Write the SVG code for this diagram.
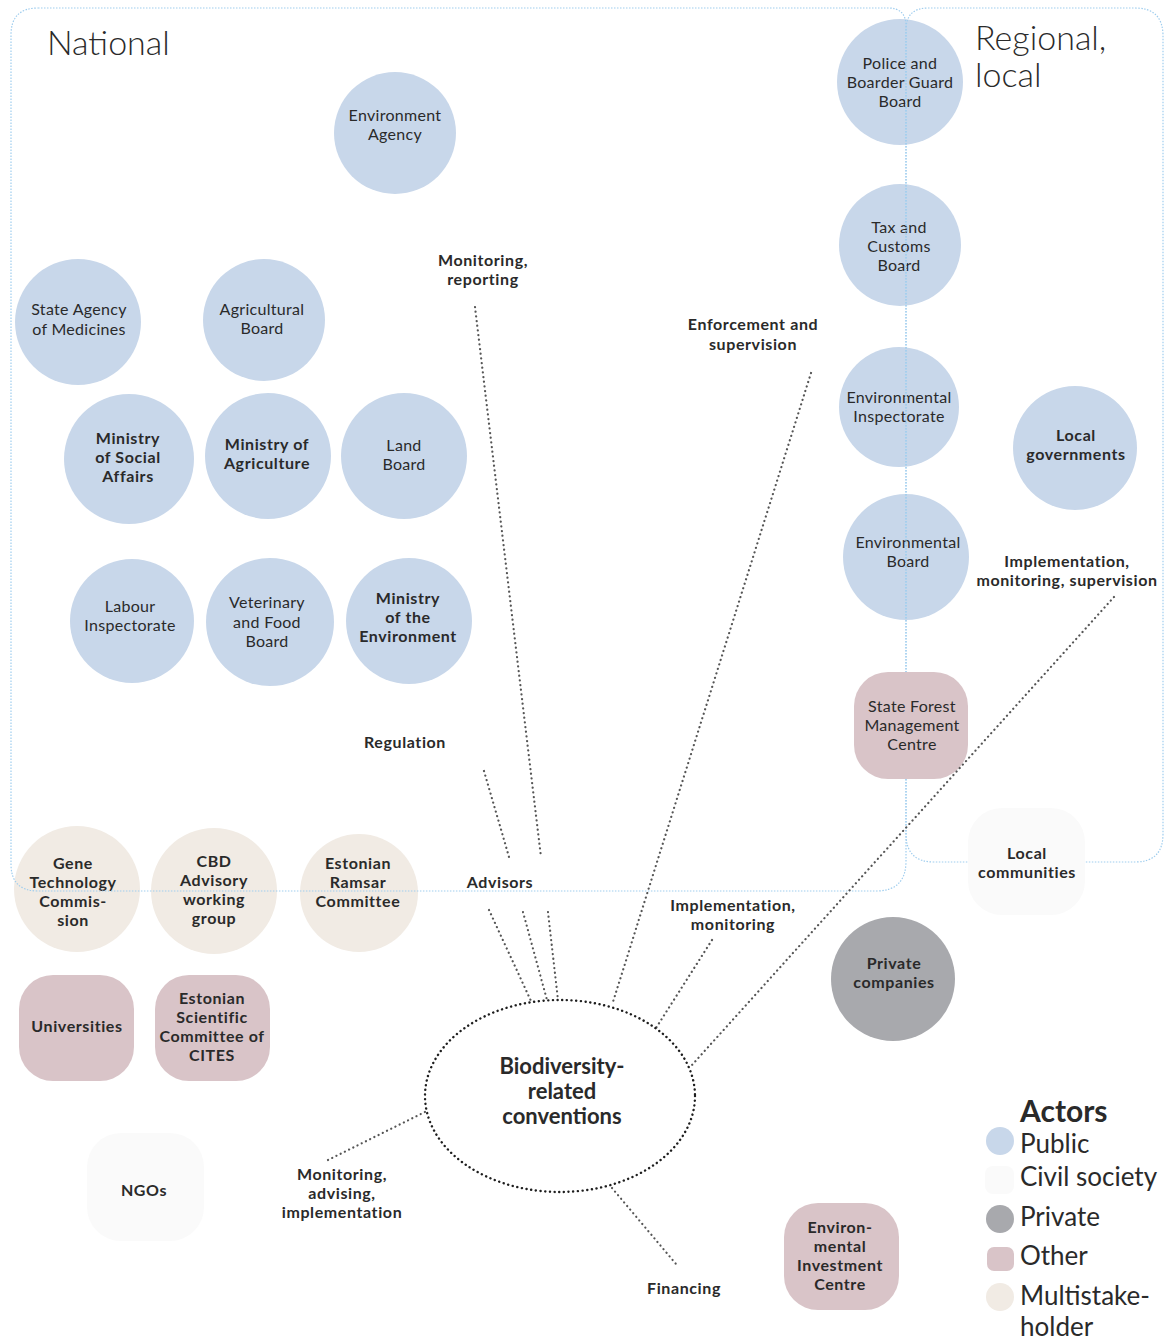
<svg xmlns="http://www.w3.org/2000/svg" width="1165" height="1342" viewBox="0 0 1165 1342">
<style>
text{font-family:Lato,"Liberation Sans",sans-serif;fill:#2a2a2a;text-anchor:middle}
.n{font-size:16px;letter-spacing:0.3px}
.b{font-size:16px;font-weight:700;letter-spacing:0.6px}
.pub{fill:#c8d7ea}
.oth{fill:#d9c4c8}
.mul{fill:#f1ebe4}
.civ{fill:#fafafa}
.pri{fill:#a8a9ad}
.box{fill:none;stroke:#9fcdee;stroke-width:1.2;stroke-dasharray:1.5 1.5}
.con{fill:none;stroke:#555;stroke-width:2.2;stroke-dasharray:0.1 4.6;stroke-linecap:round}
.ell{fill:none;stroke:#1e1e1e;stroke-width:2.4;stroke-dasharray:0.1 4.6;stroke-linecap:round}
.h{font-size:34px;font-weight:300;text-anchor:start}
.lg{font-size:26px;font-weight:400;text-anchor:start}
</style>

<g id="public-circles">
<g id="environment-agency"><circle class="pub" cx="395" cy="133" r="61"/><text class="n" x="395" y="121">Environment</text><text class="n" x="395" y="140">Agency</text></g>
<g id="state-agency-medicines"><circle class="pub" cx="78" cy="322" r="63"/><text class="n" x="79" y="315">State Agency</text><text class="n" x="79" y="335">of Medicines</text></g>
<g id="agricultural-board"><circle class="pub" cx="264" cy="320" r="61"/><text class="n" x="262" y="315">Agricultural</text><text class="n" x="262" y="334">Board</text></g>
<g id="ministry-social-affairs"><circle class="pub" cx="129" cy="459" r="65"/><text class="b" x="128" y="444">Ministry</text><text class="b" x="128" y="463">of Social</text><text class="b" x="128" y="482">Affairs</text></g>
<g id="ministry-agriculture"><circle class="pub" cx="268" cy="456" r="63"/><text class="b" x="267" y="450">Ministry of</text><text class="b" x="267" y="469">Agriculture</text></g>
<g id="land-board"><circle class="pub" cx="404" cy="456" r="63"/><text class="n" x="404" y="451">Land</text><text class="n" x="404" y="470">Board</text></g>
<g id="labour-inspectorate"><circle class="pub" cx="132" cy="621" r="62"/><text class="n" x="130" y="612">Labour</text><text class="n" x="130" y="631">Inspectorate</text></g>
<g id="veterinary-food-board"><circle class="pub" cx="270" cy="622" r="64"/><text class="n" x="267" y="608">Veterinary</text><text class="n" x="267" y="628">and Food</text><text class="n" x="267" y="647">Board</text></g>
<g id="ministry-environment"><circle class="pub" cx="409" cy="621" r="63"/><text class="b" x="408" y="604">Ministry</text><text class="b" x="408" y="623">of the</text><text class="b" x="408" y="642">Environment</text></g>
<g id="police-board"><circle class="pub" cx="900" cy="82" r="63"/><text class="n" x="900" y="69">Police and</text><text class="n" x="900" y="88">Boarder Guard</text><text class="n" x="900" y="107">Board</text></g>
<g id="tax-customs-board"><circle class="pub" cx="900" cy="245" r="61"/><text class="n" x="899" y="233">Tax and</text><text class="n" x="899" y="252">Customs</text><text class="n" x="899" y="271">Board</text></g>
<g id="environmental-inspectorate"><circle class="pub" cx="899" cy="407" r="60"/><text class="n" x="899" y="403">Environmental</text><text class="n" x="899" y="422">Inspectorate</text></g>
<g id="environmental-board"><circle class="pub" cx="906" cy="557" r="63"/><text class="n" x="908" y="548">Environmental</text><text class="n" x="908" y="567">Board</text></g>
<g id="local-governments"><circle class="pub" cx="1075" cy="448" r="62"/><text class="b" x="1076" y="441">Local</text><text class="b" x="1076" y="460">governments</text></g>
</g>

<g id="multistakeholder-circles">
<g id="gene-technology-commission"><circle class="mul" cx="77" cy="889" r="63"/><text class="b" x="73" y="869">Gene</text><text class="b" x="73" y="888">Technology</text><text class="b" x="73" y="907">Commis-</text><text class="b" x="73" y="926">sion</text></g>
<g id="cbd-advisory"><circle class="mul" cx="214" cy="891" r="63"/><text class="b" x="214" y="867">CBD</text><text class="b" x="214" y="886">Advisory</text><text class="b" x="214" y="905">working</text><text class="b" x="214" y="924">group</text></g>
<g id="ramsar-committee"><circle class="mul" cx="359" cy="893" r="59"/><text class="b" x="358" y="869">Estonian</text><text class="b" x="358" y="888">Ramsar</text><text class="b" x="358" y="907">Committee</text></g>
</g>

<g id="private-companies"><circle class="pri" cx="893" cy="979" r="62"/><text class="b" x="894" y="969">Private</text><text class="b" x="894" y="988">companies</text></g>

<g id="scopes">
<path class="box" d="M 38 8 H 888 Q 906 8 906 26 V 861 Q 906 891 876 891 H 38 Q 11 891 11 864 V 35 Q 11 8 38 8 Z"/>
<path class="box" d="M 928 8 H 1135 Q 1163 8 1163 36 V 834 Q 1163 862 1135 862 H 934 Q 906 862 906 834 V 30 Q 906 8 928 8 Z"/>
<text class="h" x="47" y="55">National</text>
<text class="h" x="975" y="50">Regional,</text>
<text class="h" x="975" y="87">local</text>
</g>

<g id="rect-nodes">
<g id="state-forest-centre"><rect class="oth" x="854" y="672" width="114" height="107" rx="34"/><text class="n" x="912" y="712">State Forest</text><text class="n" x="912" y="731">Management</text><text class="n" x="912" y="750">Centre</text></g>
<g id="local-communities"><rect class="civ" x="968" y="808" width="117" height="107" rx="34"/><text class="b" x="1027" y="859">Local</text><text class="b" x="1027" y="878">communities</text></g>
<g id="universities"><rect class="oth" x="19" y="975" width="115" height="106" rx="34"/><text class="b" x="77" y="1032">Universities</text></g>
<g id="cites-committee"><rect class="oth" x="155" y="975" width="115" height="106" rx="34"/><text class="b" x="212" y="1004">Estonian</text><text class="b" x="212" y="1023">Scientific</text><text class="b" x="212" y="1042">Committee of</text><text class="b" x="212" y="1061">CITES</text></g>
<g id="ngos"><rect class="civ" x="87" y="1133" width="117" height="108" rx="34"/><text class="b" x="144" y="1196">NGOs</text></g>
<g id="environmental-investment-centre"><rect class="oth" x="784" y="1203" width="115" height="107" rx="34"/><text class="b" x="840" y="1233">Environ-</text><text class="b" x="840" y="1252">mental</text><text class="b" x="840" y="1271">Investment</text><text class="b" x="840" y="1290">Centre</text></g>
</g>

<g id="connectors">
<line class="con" x1="475" y1="307" x2="541" y2="857"/>
<line class="con" x1="484" y1="771" x2="509" y2="857"/>
<line class="con" x1="811" y1="373" x2="612" y2="1005"/>
<line class="con" x1="489" y1="910" x2="531" y2="1001"/>
<line class="con" x1="523" y1="912" x2="547" y2="1000"/>
<line class="con" x1="548" y1="912" x2="558" y2="1000"/>
<line class="con" x1="712" y1="940" x2="656" y2="1028"/>
<line class="con" x1="1114" y1="597" x2="692" y2="1065"/>
<line class="con" x1="328" y1="1160" x2="427" y2="1111"/>
<line class="con" x1="612" y1="1188" x2="676" y2="1264"/>
</g>

<g id="connector-labels">
<text class="b" x="483" y="266">Monitoring,</text><text class="b" x="483" y="285">reporting</text>
<text class="b" x="753" y="330">Enforcement and</text><text class="b" x="753" y="350">supervision</text>
<text class="b" x="405" y="748">Regulation</text>
<text class="b" x="500" y="888">Advisors</text>
<text class="b" x="733" y="911">Implementation,</text><text class="b" x="733" y="930">monitoring</text>
<text class="b" x="1067" y="567">Implementation,</text><text class="b" x="1067" y="586">monitoring, supervision</text>
<text class="b" x="342" y="1180">Monitoring,</text><text class="b" x="342" y="1199">advising,</text><text class="b" x="342" y="1218">implementation</text>
<text class="b" x="684" y="1294">Financing</text>
</g>

<g id="biodiversity-conventions">
<ellipse class="ell" cx="560" cy="1096" rx="135" ry="96"/>
<text x="562" y="1074" style="font-size:22px;font-weight:700">Biodiversity-</text>
<text x="562" y="1099" style="font-size:22px;font-weight:700">related</text>
<text x="562" y="1124" style="font-size:22px;font-weight:700">conventions</text>
</g>

<g id="legend">
<text x="1020" y="1122" style="font-size:30px;font-weight:700;text-anchor:start">Actors</text>
<circle class="pub" cx="1000" cy="1141" r="14"/><text class="lg" x="1020" y="1153">Public</text>
<rect class="civ" x="985" y="1166" width="29" height="28" rx="8"/><text class="lg" x="1020" y="1186">Civil society</text>
<circle class="pri" cx="1000" cy="1219" r="14"/><text class="lg" x="1020" y="1226">Private</text>
<rect class="oth" x="987" y="1247" width="27" height="24" rx="7"/><text class="lg" x="1020" y="1265">Other</text>
<circle class="mul" cx="1000" cy="1297" r="14"/><text class="lg" x="1020" y="1305">Multistake-</text><text class="lg" x="1020" y="1336">holder</text>
</g>
</svg>
